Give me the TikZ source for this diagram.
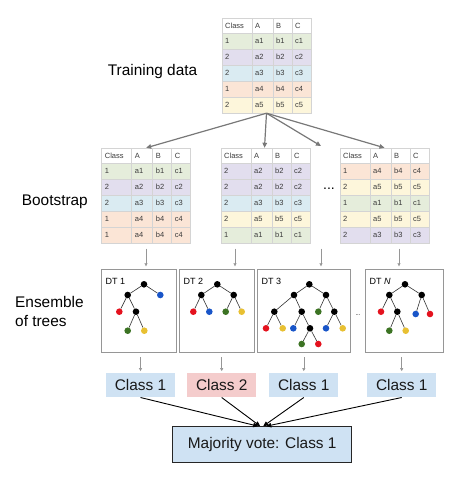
\documentclass[tikz,border=0pt]{standalone}
\usepackage{fontspec}
\setmainfont{Liberation Sans}
\usetikzlibrary{arrows.meta}
\definecolor{rgreen}{RGB}{229,237,219}
\definecolor{rpurple}{RGB}{226,222,238}
\definecolor{rcyan}{RGB}{218,235,242}
\definecolor{rorange}{RGB}{251,229,214}
\definecolor{ryellow}{RGB}{253,246,219}
\definecolor{gridc}{RGB}{212,212,212}
\definecolor{txtc}{RGB}{60,60,60}
\definecolor{dred}{RGB}{228,18,30}
\definecolor{dblue}{RGB}{25,85,200}
\definecolor{dgreen}{RGB}{60,115,35}
\definecolor{dyellow}{RGB}{232,192,50}
\definecolor{cblue}{RGB}{207,226,243}
\definecolor{cred}{RGB}{244,204,204}
\definecolor{boxgray}{RGB}{150,150,150}
\definecolor{arrgray}{RGB}{120,120,120}
\definecolor{edgec}{RGB}{50,50,50}

\tikzset{
  tabframe/.style={draw=none, minimum width=89pt, minimum height=95pt, inner sep=0pt},
  celltxt/.style={anchor=west, inner sep=0pt, text=txtc, font=\fontsize{7.5}{9}\selectfont},
  bigarrow/.style={draw=arrgray, line width=1.2pt, -{Triangle[length=5pt,width=4.5pt]}},
  smallarrow/.style={draw=boxgray, line width=0.6pt, -{Triangle[length=3pt,width=3pt]}},
  votearrow/.style={draw=black, line width=0.9pt, -{Triangle[length=5pt,width=4.5pt]}},
  treebox/.style={draw=boxgray, line width=0.9pt, minimum height=83.4pt, inner sep=0pt},
  dot/.style={circle, inner sep=0pt, minimum size=6.6pt, fill=#1, draw=none},
  tedge/.style={draw=edgec, line width=0.6pt},
  dtlabel/.style={anchor=west, inner sep=0pt, font=\fontsize{9}{10}\selectfont},
  biglabel/.style={anchor=west, inner sep=0pt, align=left, font=\fontsize{15.4}{19.3}\selectfont},
  classbox/.style={minimum width=69pt, minimum height=24pt, inner sep=0pt, text=black!90, font=\fontsize{15.4}{17}\selectfont}
}

\newcommand{\mytable}[4]{%
  \begin{scope}[shift={(#2,#3)}]
    \node[tabframe] (#1) at (44.5,47.5) {};
    \fill[white] (0,0) rectangle (89,15);
    \node[celltxt] (#1-h1) at (3,7.5) {Class};
    \node[celltxt] (#1-h2) at (33,7.5) {A};
    \node[celltxt] (#1-h3) at (54,7.5) {B};
    \node[celltxt] (#1-h4) at (73,7.5) {C};
    \foreach \fc/\vk/\va/\vb/\vc [count=\i] in {#4} {
      \pgfmathsetmacro{\yy}{15+16*(\i-1)}
      \fill[\fc] (0,\yy) rectangle ++(89,16);
      \node[celltxt] (#1-\i-1) at (3,\yy+8) {\vk};
      \node[celltxt] (#1-\i-2) at (33,\yy+8) {\va};
      \node[celltxt] (#1-\i-3) at (54,\yy+8) {\vb};
      \node[celltxt] (#1-\i-4) at (73,\yy+8) {\vc};
    }
    \draw[gridc, line width=0.5pt] (0,0) rectangle (89,95);
    \foreach \xx in {30,51,70} {\draw[gridc, line width=0.5pt] (\xx,0) -- (\xx,95);}
    \foreach \yy in {15,31,47,63,79} {\draw[gridc, line width=0.5pt] (0,\yy) -- (89,\yy);}
  \end{scope}}

\begin{document}
\begin{tikzpicture}[x=1pt, y=-1pt]
\useasboundingbox (0,0) rectangle (474,482);

% labels
\node[biglabel] (lbltrain) at (107.7,71.7) {Training data};
\node[biglabel] (lblboot) at (21.7,201.7) {Bootstrap};
\node[biglabel] (lblens) at (15,311.3) {Ensemble\\of trees};

% tables
\mytable{train}{222}{18}{rgreen/1/a1/b1/c1, rpurple/2/a2/b2/c2, rcyan/2/a3/b3/c3, rorange/1/a4/b4/c4, ryellow/2/a5/b5/c5}
\mytable{bs1}{101.7}{148}{rgreen/1/a1/b1/c1, rpurple/2/a2/b2/c2, rcyan/2/a3/b3/c3, rorange/1/a4/b4/c4, rorange/1/a4/b4/c4}
\mytable{bs2}{221}{148}{rpurple/2/a2/b2/c2, rpurple/2/a2/b2/c2, rcyan/2/a3/b3/c3, ryellow/2/a5/b5/c5, rgreen/1/a1/b1/c1}
\mytable{bs3}{340}{148}{rorange/1/a4/b4/c4, ryellow/2/a5/b5/c5, rgreen/1/a1/b1/c1, ryellow/2/a5/b5/c5, rpurple/2/a3/b3/c3}

\node[inner sep=0pt, font=\fontsize{14}{14}\selectfont] (bsdots) at (329,189) {...};

% top arrows
\coordinate (gap) at (321,146);
\draw[bigarrow] (train.south) -- (bs1.north);
\draw[bigarrow] (train.south) -- ([xshift=-1pt]bs2.north);
\draw[bigarrow] (train.south) -- (gap);
\draw[bigarrow] (train.south) -- (bs3.north);

% tree boxes
\node[treebox, minimum width=75pt] (dt1) at (139.2,311) {};
\node[treebox, minimum width=75pt] (dt2) at (216.8,311) {};
\node[treebox, minimum width=92.7pt] (dt3) at (303.65,311) {};
\node[treebox, minimum width=78.3pt] (dt4) at (404.15,311) {};
\node[inner sep=0pt, font=\fontsize{6}{6}\selectfont] (dtdots) at (358,315) {...};

\node[dtlabel] (dt1l) at (105.5,281.7) {DT 1};
\node[dtlabel] (dt2l) at (183.5,281.7) {DT 2};
\node[dtlabel] (dt3l) at (261.5,281.7) {DT 3};
\node[dtlabel] (dt4l) at (369.5,281.7) {DT \textit{N}};

% bootstrap -> tree arrows
\foreach \xx/\nm/\tg in {146/q1/dt1, 235/q2/dt2, 321/q3/dt3, 399/q4/dt4} {
  \coordinate (\nm) at (\xx,248.5);
  \draw[smallarrow, shorten >=2.5pt] (\nm) -- (\nm |- \tg.north);
}

% DT1
\node[dot=black] (t1a) at (144,284.3) {};
\node[dot=black] (t1b) at (127.7,295) {};
\node[dot=dblue] (t1c) at (160.3,295) {};
\node[dot=dred] (t1d) at (119.3,311.7) {};
\node[dot=black] (t1e) at (136,311.7) {};
\node[dot=dgreen] (t1f) at (127.7,330.7) {};
\node[dot=dyellow] (t1g) at (144.3,330.7) {};
\draw[tedge] (t1a) -- (t1b) (t1a) -- (t1c) (t1b) -- (t1d) (t1b) -- (t1e) (t1e) -- (t1f) (t1e) -- (t1g);

% DT2
\node[dot=black] (t2a) at (217.3,284.3) {};
\node[dot=black] (t2b) at (201.3,295) {};
\node[dot=black] (t2c) at (233.7,295) {};
\node[dot=dred] (t2d) at (193.3,311.7) {};
\node[dot=dblue] (t2e) at (209.3,311.7) {};
\node[dot=dgreen] (t2f) at (225.7,311.7) {};
\node[dot=dyellow] (t2g) at (241.7,311.7) {};
\draw[tedge] (t2a) -- (t2b) (t2a) -- (t2c) (t2b) -- (t2d) (t2b) -- (t2e) (t2c) -- (t2f) (t2c) -- (t2g);

% DT3
\node[dot=black] (t3a) at (309.3,284.3) {};
\node[dot=black] (t3b) at (294,295) {};
\node[dot=black] (t3c) at (326,295) {};
\node[dot=black] (t3d) at (274.3,311.7) {};
\node[dot=black] (t3e) at (301.7,311.7) {};
\node[dot=dgreen] (t3f) at (318.3,311.7) {};
\node[dot=black] (t3g) at (334.3,311.7) {};
\node[dot=dred] (t3h) at (266,328.3) {};
\node[dot=dyellow] (t3i) at (282.7,328.3) {};
\node[dot=dblue] (t3j) at (293.3,328.3) {};
\node[dot=black] (t3k) at (310,328.3) {};
\node[dot=dblue] (t3l) at (326,328.3) {};
\node[dot=dyellow] (t3m) at (342.7,328.3) {};
\node[dot=dgreen] (t3n) at (301.7,344) {};
\node[dot=dred] (t3o) at (318.3,344) {};
\draw[tedge] (t3a) -- (t3b) (t3a) -- (t3c) (t3b) -- (t3d) (t3b) -- (t3e) (t3c) -- (t3f) (t3c) -- (t3g)
  (t3d) -- (t3h) (t3d) -- (t3i) (t3e) -- (t3j) (t3e) -- (t3k) (t3g) -- (t3l) (t3g) -- (t3m) (t3k) -- (t3n) (t3k) -- (t3o);

% DT N
\node[dot=black] (t4a) at (405,284.3) {};
\node[dot=black] (t4b) at (389.3,295) {};
\node[dot=black] (t4c) at (421.7,295) {};
\node[dot=dred] (t4d) at (381,311.7) {};
\node[dot=black] (t4e) at (397.3,311.7) {};
\node[dot=dblue] (t4f) at (415.7,314) {};
\node[dot=dred] (t4g) at (430,314) {};
\node[dot=dgreen] (t4h) at (389.3,330.7) {};
\node[dot=dyellow] (t4i) at (405.7,330.7) {};
\draw[tedge] (t4a) -- (t4b) (t4a) -- (t4c) (t4b) -- (t4d) (t4b) -- (t4e) (t4c) -- (t4f) (t4c) -- (t4g) (t4e) -- (t4h) (t4e) -- (t4i);

% class boxes
\node[classbox, fill=cblue] (cls1) at (140.5,385.3) {Class 1};
\node[classbox, fill=cred] (cls2) at (221.7,385.3) {Class 2};
\node[classbox, fill=cblue] (cls3) at (303.8,385.3) {Class 1};
\node[classbox, fill=cblue] (cls4) at (401.7,385.3) {Class 1};

\foreach \i in {1,2,3,4} {
  \draw[smallarrow, shorten <=4pt, shorten >=2pt] (cls\i.north |- dt\i.south) -- (cls\i.north);
}

% majority
\node[draw=black!85, line width=1pt, fill=cblue, minimum width=179pt, minimum height=35.6pt, inner sep=0pt,
  font=\fontsize{15.4}{17}\selectfont, text=black!90] (maj) at (262.2,444.5) {Majority vote: Class 1};

\draw[votearrow] (cls1.south) -- ([xshift=-4pt]maj.north);
\draw[votearrow] (cls2.south) -- ([xshift=-2pt]maj.north);
\draw[votearrow] (cls3.south) -- ([xshift=1pt]maj.north);
\draw[votearrow] (cls4.south) -- ([xshift=4pt]maj.north);
\end{tikzpicture}
\end{document}
